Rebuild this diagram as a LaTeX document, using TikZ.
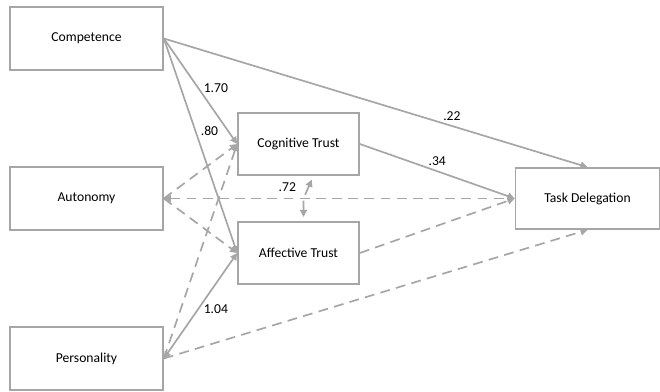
\documentclass[tikz,border=0pt]{standalone}
\usepackage{fontspec}
\setmainfont{Carlito}
\usetikzlibrary{arrows.meta}
\definecolor{linegray}{RGB}{166,166,166}
\begin{document}
\begin{tikzpicture}[node distance=4cm, font=\fontsize{9.7}{11}\selectfont]

        \tikzstyle{construct} = [rectangle, minimum width=3.825cm, minimum height=1.575cm, text centered, draw=linegray, line width=1.2pt, fill=white]
        \tikzstyle{mediator} = [construct, minimum width=3.025cm, minimum height=1.55cm]
        \tikzstyle{outcome} = [construct, minimum width=3.6cm, minimum height=1.525cm]
        \tikzstyle{arrow} = [draw=linegray, line width=1.2pt, ->, >={Triangle[length=5pt,width=5pt]}]
        \tikzstyle{dasharrow} = [arrow, dash pattern=on 7pt off 4.5pt]

        \useasboundingbox (-2.1625,-8.8375) rectangle (14.3375,0.9625);

        \node (comp) [construct] {Competence};
        \node (aut) [construct, below of=comp] {Autonomy};
        \node (pers) [construct, below of=aut] {Personality};
        \node (cog) [mediator, right of=aut, xshift=1.3cm, yshift=1.3625cm] {Cognitive Trust};
        \node (aff) [mediator, right of=aut, xshift=1.3cm, yshift=-1.3625cm] {Affective Trust};
        \node (task) [outcome, right of=aut, xshift=8.525cm] {Task Delegation};

        \draw [arrow] (comp.east) -- node[pos=0.68, above] {.22} (task.north);
        \draw [arrow] (comp.east) -- node[pos=0.47, right] {1.70} (cog.west);
        \draw [arrow] (comp.east) -- node[pos=0.43, right] {.80} (aff.west);
        \draw [arrow] (cog.east) -- node[midway, above] {.34} (task.west);
        \draw [dasharrow, <->] (aut.east) -- (task.west);
        \draw [dasharrow] (aut.east) -- (cog.west);
        \draw [dasharrow] (aut.east) -- (aff.west);
        \draw [dasharrow] (pers.east) -- (cog.west);
        \draw [arrow, <->] (pers.east) -- node[pos=0.47, right] {1.04} (aff.west);
        \draw [dasharrow] (pers.east) -- (task.south);
        \draw [dasharrow] (aff.east) -- (task.west);
        \draw [dasharrow, <->, shorten <=3pt, shorten >=3pt] ([xshift=0.375cm]cog.south) -- node[left, xshift=-5pt] {.72} ([xshift=0.125cm]aff.north |- aut.east) -- ([xshift=0.125cm]aff.north);
    \end{tikzpicture}
\end{document}
